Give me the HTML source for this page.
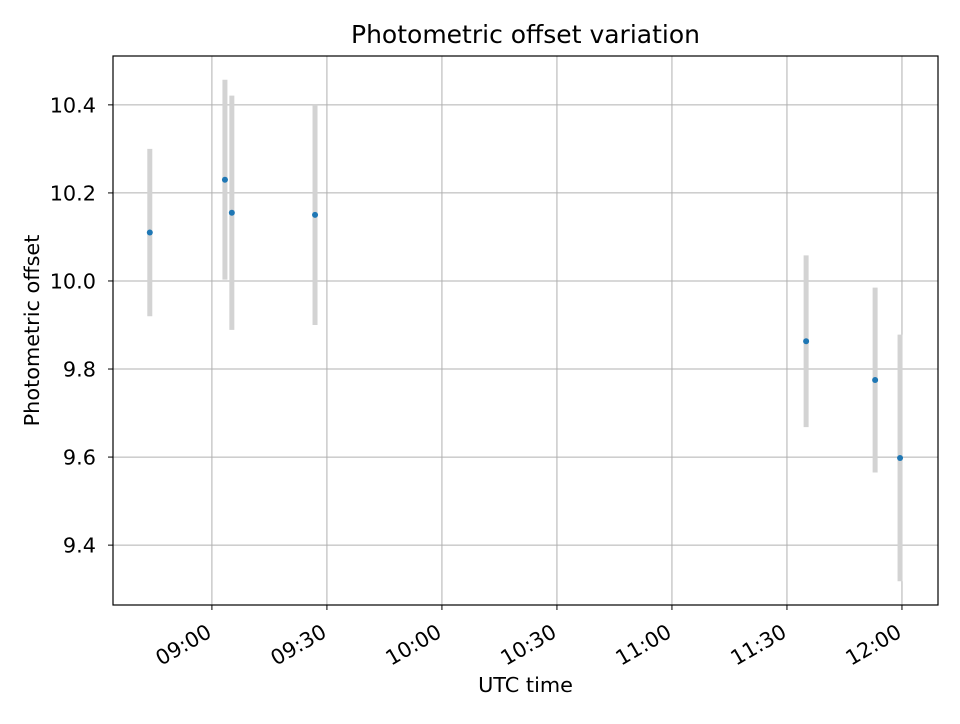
<!DOCTYPE html>
<html><head><meta charset="utf-8"><style>
body{margin:0;background:#fff;font-family:"DejaVu Sans","Liberation Sans",sans-serif;}
</style></head><body>
<svg id="chart" width="960" height="720" xmlns="http://www.w3.org/2000/svg" font-family="DejaVu Sans, Liberation Sans, sans-serif"></svg>
<script>
// minutes after 09:00 UTC
const times = [-16.2, 3.4, 5.2, 26.9, 155.0, 173.0, 179.5];
const offsets = [10.11, 10.23, 10.155, 10.15, 9.863, 9.775, 9.598];
const errors = [0.19, 0.227, 0.266, 0.25, 0.195, 0.21, 0.28];
const xTickVals = [0, 30, 60, 90, 120, 150, 180];
const xTickLabels = ["09:00", "09:30", "10:00", "10:30", "11:00", "11:30", "12:00"];
const yTickVals = [9.4, 9.6, 9.8, 10.0, 10.2, 10.4];
const yTickLabels = ["9.4", "9.6", "9.8", "10.0", "10.2", "10.4"];

const svg = document.getElementById('chart');
const NS = 'http://www.w3.org/2000/svg';
const L = 113, R = 938, T = 56, B = 605;
const xMin = -25.8, xMax = 189.4, yMin = 9.264, yMax = 10.511;
const X = v => L + (v - xMin) / (xMax - xMin) * (R - L);
const Y = v => B - (v - yMin) / (yMax - yMin) * (B - T);
function mk(tag, attrs, parent) {
  const e = document.createElementNS(NS, tag);
  for (const k in attrs) e.setAttribute(k, attrs[k]);
  (parent || svg).appendChild(e);
  return e;
}
xTickVals.forEach((v, i) => {
  const g = mk('line', {x1: X(v), x2: X(v), y1: T, y2: B, stroke: '#b0b0b0', 'stroke-width': 1});
  
  
  const t = mk('line', {x1: X(v), x2: X(v), y1: B, y2: B + 5, stroke: '#000'});
  
  
  const lb = mk('text', {x: 0, y: 0, 'font-size': 20.8, 'text-anchor': 'end', transform: `translate(${X(v) + 1},${B + 31}) rotate(-30)`});
  
  
  lb.textContent = xTickLabels[i];
});
yTickVals.forEach((v, i) => {
  const g = mk('line', {x1: L, x2: R, y1: Y(v), y2: Y(v), stroke: '#b0b0b0', 'stroke-width': 1});
  
  
  const t = mk('line', {x1: L - 5, x2: L, y1: Y(v), y2: Y(v), stroke: '#000'});
  
  
  const lb = mk('text', {x: L - 17, y: Y(v) + 7.5, 'font-size': 20.8, 'text-anchor': 'end'});
  
  
  lb.textContent = yTickLabels[i];
});
times.forEach((t, i) => {
  const e = mk('line', {x1: X(t), x2: X(t), y1: Y(offsets[i] + errors[i]), y2: Y(offsets[i] - errors[i]), stroke: '#d3d3d3', 'stroke-width': 5});
  
  
});
times.forEach((t, i) => {
  const p = mk('circle', {cx: X(t), cy: Y(offsets[i]), r: 3, fill: '#1f77b4'});
  
  
});
const f = mk('rect', {x: L, y: T, width: R - L, height: B - T, fill: 'none', stroke: '#000', 'stroke-width': 1.2});


const title = mk('text', {x: (L + R) / 2, y: 43, 'font-size': 25, 'text-anchor': 'middle'});


title.textContent = 'Photometric offset variation';
const xl = mk('text', {x: (L + R) / 2, y: 692, 'font-size': 20.8, 'text-anchor': 'middle'});


xl.textContent = 'UTC time';
const yl = mk('text', {x: 0, y: 0, 'font-size': 20.8, 'text-anchor': 'middle', transform: `translate(39,${(T + B) / 2}) rotate(-90)`});


yl.textContent = 'Photometric offset';
</script>
</body></html>
